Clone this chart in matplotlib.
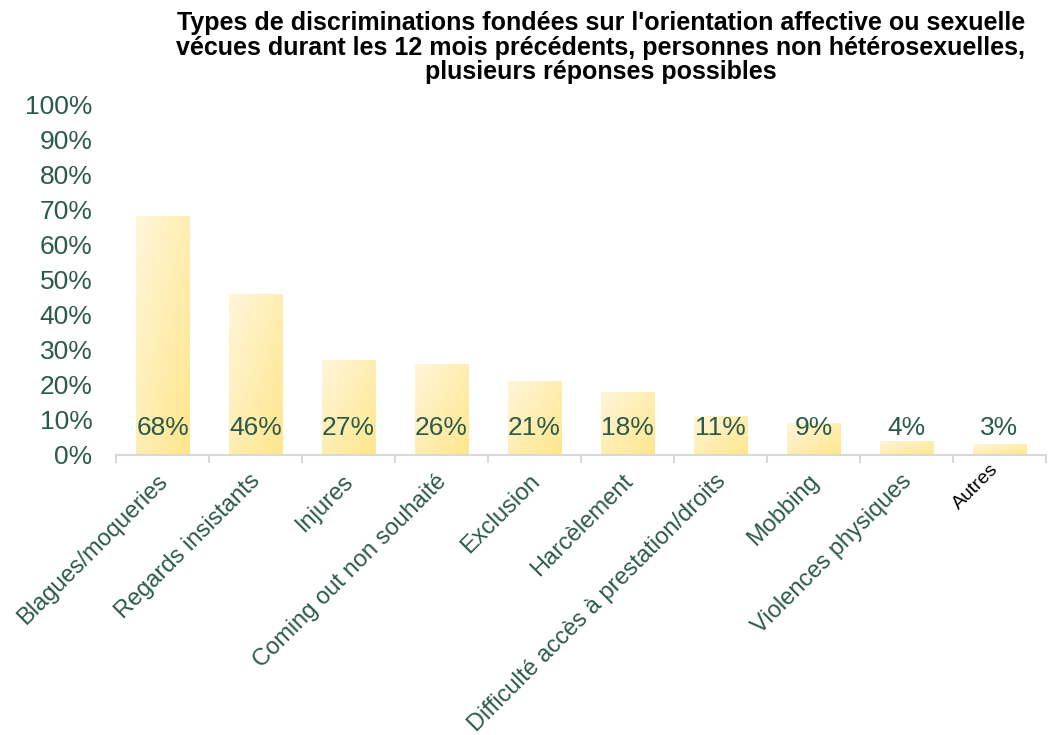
from matplotlib import pyplot as plt
from matplotlib.colors import LinearSegmentedColormap
import matplotlib.transforms as mtransforms
import numpy as np

plt.rcParams["font.family"] = ["Liberation Sans", "DejaVu Sans"]

categories = ["Blagues/moqueries", "Regards insistants", "Injures",
              "Coming out non souhaité", "Exclusion", "Harcèlement",
              "Difficulté accès à prestation/droits", "Mobbing",
              "Violences physiques", "Autres"]
values = [68, 46, 27, 26, 21, 18, 11, 9, 4, 3]
yticks = [0, 10, 20, 30, 40, 50, 60, 70, 80, 90, 100]

title = ("Types de discriminations fondées sur l'orientation affective ou sexuelle\n"
         "vécues durant les 12 mois précédents, personnes non hétérosexuelles,\n"
         "plusieurs réponses possibles")


def main():
    green = "#2C5A4A"
    fig = plt.figure(figsize=(10.58, 7.35), dpi=100)
    ax = fig.add_axes([116 / 1058, 1 - 455 / 735, 930 / 1058, 351 / 735])

    x = np.arange(len(categories))
    bars = ax.bar(x, values, width=0.57, color="none", edgecolor="none")

    # diagonal gradient, light at top-left, deeper yellow at bottom-right
    cmap = LinearSegmentedColormap.from_list("gold", ["#FFF6DA", "#FFE68C"])
    uu, vv = np.meshgrid(np.linspace(0, 1, 60), np.linspace(0, 1, 120))
    grad = (uu + vv) / 2
    for b in bars:
        x0, y0 = b.get_x(), b.get_y()
        w, h = b.get_width(), b.get_height()
        im = ax.imshow(grad, cmap=cmap, vmin=0, vmax=1, aspect="auto",
                       extent=(x0, x0 + w, y0, y0 + h), origin="upper",
                       interpolation="bilinear", zorder=1)
        im.set_clip_path(b)

    for xi, v in zip(x, values):
        ax.text(xi, 7.6, "%d%%" % v, ha="center", va="center",
                fontsize=19, color=green, zorder=3)

    ax.set_xlim(-0.5, len(categories) - 0.5)
    ax.set_ylim(0, 100)
    ax.set_yticks(yticks)
    ax.set_yticklabels(["%d%%" % t for t in yticks], fontsize=19, color=green)
    ax.tick_params(axis="y", length=0, pad=17)

    ax.set_xticks(x)
    ax.set_xticklabels(categories, rotation=45, ha="right",
                       rotation_mode="anchor", fontsize=17, color=green)
    ax.tick_params(axis="x", length=0, pad=11)
    shift = mtransforms.ScaledTranslation(-6 / 100, 0, fig.dpi_scale_trans)
    for lab in ax.get_xticklabels():
        lab.set_transform(lab.get_transform() + shift)
    lab = ax.get_xticklabels()[-1]
    lab.set_color("black")
    lab.set_fontsize(14)
    lab.set_transform(lab.get_transform() + mtransforms.ScaledTranslation(
        -4 / 100, 10 / 100, fig.dpi_scale_trans))

    # separators between categories under the axis line
    ax.set_xticks(np.arange(len(categories) + 1) - 0.5, minor=True)
    ax.tick_params(axis="x", which="minor", length=6, width=1.5,
                   color="#D9D9D9", direction="out")

    for s in ["top", "right", "left"]:
        ax.spines[s].set_visible(False)
    ax.spines["bottom"].set_color("#D9D9D9")
    ax.spines["bottom"].set_linewidth(1.5)

    fig.text(601 / 1058, 1 - 11 / 735, title, ha="center", va="top",
             fontsize=18, fontweight="bold", linespacing=1.03)

    fig.savefig("out.png", dpi=100)
    plt.close(fig)


if __name__ == '__main__':
    main()
